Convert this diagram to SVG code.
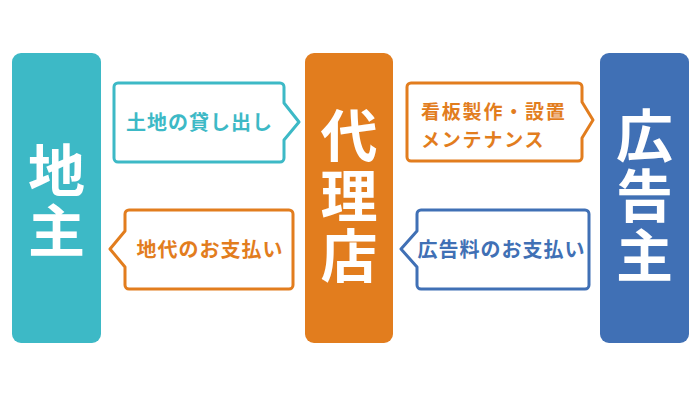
<svg xmlns="http://www.w3.org/2000/svg" width="700" height="400" viewBox="0 0 700 400">
  <style>
    .bar-text { font-family: "Noto Sans CJK JP", "Noto Sans", sans-serif; font-weight: 700; font-size: 57px; fill: #ffffff; text-anchor: middle; writing-mode: vertical-rl; letter-spacing: 3px; }
    .lbl { font-family: "Noto Sans CJK JP", "Noto Sans", sans-serif; font-weight: 700; font-size: 20px; letter-spacing: 1px; }
    .lbl2 { font-family: "Noto Sans CJK JP", "Noto Sans", sans-serif; font-weight: 700; font-size: 19px; letter-spacing: 1.8px; }
    .callout { fill: #ffffff; stroke-width: 3; stroke-linejoin: round; }
    .teal { fill: #3DB9C6; }
    .orange { fill: #E27D1E; }
    .blue { fill: #4070B5; }
  </style>
  <rect width="700" height="400" fill="#ffffff"/>

  <g id="node-jinushi">
    <rect x="12" y="53" width="89" height="290" rx="9" class="teal"/>
    <text class="bar-text" x="56.5" y="202">地主</text>
  </g>

  <g id="node-dairiten">
    <rect x="305" y="53" width="88" height="290" rx="9" class="orange"/>
    <text class="bar-text" x="349" y="197">代理店</text>
  </g>

  <g id="node-koukokunushi">
    <rect x="600" y="53" width="89" height="290" rx="9" class="blue"/>
    <text class="bar-text" x="644.5" y="197">広告主</text>
  </g>

  <g id="connectors">
    <g id="callout-land">
      <path class="callout" stroke="#3DB9C6" d="M118,83 H280 A4,4 0 0 1 284,87 V103 L299,122 L284,140 V158 A4,4 0 0 1 280,162 H118 A4,4 0 0 1 114,158 V87 A4,4 0 0 1 118,83 Z"/>
      <text class="lbl" fill="#3DB9C6" x="199.5" y="129.5" text-anchor="middle">土地の貸し出し</text>
    </g>
    <g id="callout-rent">
      <path class="callout" stroke="#E27D1E" d="M129,210 H289 A4,4 0 0 1 293,214 V285 A4,4 0 0 1 289,289 H129 A4,4 0 0 1 125,285 V267 L110,249 L125,231 V214 A4,4 0 0 1 129,210 Z"/>
      <text class="lbl" fill="#E27D1E" x="210" y="257" text-anchor="middle">地代のお支払い</text>
    </g>
    <g id="callout-sign">
      <path class="callout" stroke="#E27D1E" d="M411,83 H578 A4,4 0 0 1 582,87 V102 L593,120 L582,138 V157 A4,4 0 0 1 578,161 H411 A4,4 0 0 1 407,157 V87 A4,4 0 0 1 411,83 Z"/>
      <text class="lbl2" fill="#E27D1E" x="421" y="119">看板製作・設置</text>
      <text class="lbl2" fill="#E27D1E" x="421" y="147">メンテナンス</text>
    </g>
    <g id="callout-adfee">
      <path class="callout" stroke="#4070B5" d="M421,210 H585 A4,4 0 0 1 589,214 V285 A4,4 0 0 1 585,289 H421 A4,4 0 0 1 417,285 V267 L401,249 L417,231 V214 A4,4 0 0 1 421,210 Z"/>
      <text class="lbl" fill="#4070B5" x="501.5" y="257" text-anchor="middle">広告料のお支払い</text>
    </g>
  </g>
</svg>
